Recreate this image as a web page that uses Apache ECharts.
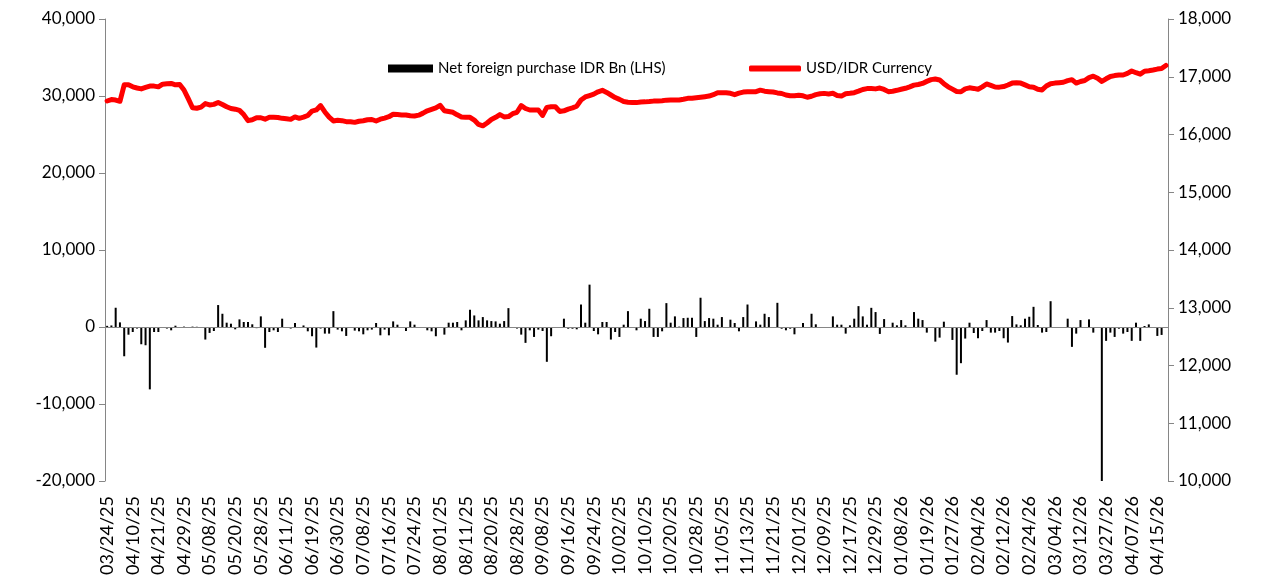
<!DOCTYPE html>
<html>
<head>
<meta charset="utf-8">
<script src="https://cdn.jsdelivr.net/npm/echarts@6/dist/echarts.min.js"></script>
<style>
  html, body { margin: 0; padding: 0; background: #fff; }
  #chart { width: 1275px; height: 585px; }
</style>
</head>
<body>
<div id="chart"></div>
<script>
// trading days shown on the category axis
var dates = [
  '03/24/25','03/25/25','03/26/25','03/27/25','04/08/25','04/09/25','04/10/25','04/11/25','04/14/25','04/15/25',
  '04/16/25','04/17/25','04/21/25','04/22/25','04/23/25','04/24/25','04/25/25','04/28/25','04/29/25','04/30/25',
  '05/02/25','05/05/25','05/06/25','05/07/25','05/08/25','05/09/25','05/14/25','05/15/25','05/16/25','05/19/25',
  '05/20/25','05/21/25','05/22/25','05/23/25','05/26/25','05/27/25','05/28/25','06/02/25','06/03/25','06/04/25',
  '06/05/25','06/10/25','06/11/25','06/12/25','06/13/25','06/16/25','06/17/25','06/18/25','06/19/25','06/20/25',
  '06/23/25','06/24/25','06/25/25','06/26/25','06/30/25','07/01/25','07/02/25','07/03/25','07/04/25','07/07/25',
  '07/08/25','07/09/25','07/10/25','07/11/25','07/14/25','07/15/25','07/16/25','07/17/25','07/18/25','07/21/25',
  '07/22/25','07/23/25','07/24/25','07/25/25','07/28/25','07/29/25','07/30/25','07/31/25','08/01/25','08/04/25',
  '08/05/25','08/06/25','08/07/25','08/08/25','08/11/25','08/12/25','08/13/25','08/14/25','08/15/25','08/19/25',
  '08/20/25','08/21/25','08/22/25','08/25/25','08/26/25','08/27/25','08/28/25','08/29/25','09/01/25','09/02/25',
  '09/03/25','09/04/25','09/08/25','09/09/25','09/10/25','09/11/25','09/12/25','09/15/25','09/16/25','09/17/25',
  '09/18/25','09/19/25','09/22/25','09/23/25','09/24/25','09/25/25','09/26/25','09/29/25','09/30/25','10/01/25',
  '10/02/25','10/03/25','10/06/25','10/07/25','10/08/25','10/09/25','10/10/25','10/13/25','10/14/25','10/15/25',
  '10/16/25','10/17/25','10/20/25','10/21/25','10/22/25','10/23/25','10/24/25','10/27/25','10/28/25','10/29/25',
  '10/30/25','10/31/25','11/03/25','11/04/25','11/05/25','11/06/25','11/07/25','11/10/25','11/11/25','11/12/25',
  '11/13/25','11/14/25','11/17/25','11/18/25','11/19/25','11/20/25','11/21/25','11/24/25','11/25/25','11/26/25',
  '11/27/25','11/28/25','12/01/25','12/02/25','12/03/25','12/04/25','12/05/25','12/08/25','12/09/25','12/10/25',
  '12/11/25','12/12/25','12/15/25','12/16/25','12/17/25','12/18/25','12/19/25','12/22/25','12/23/25','12/24/25',
  '12/29/25','12/30/25','01/02/26','01/05/26','01/06/26','01/07/26','01/08/26','01/09/26','01/12/26','01/13/26',
  '01/14/26','01/15/26','01/19/26','01/20/26','01/21/26','01/22/26','01/23/26','01/26/26','01/27/26','01/28/26',
  '01/29/26','01/30/26','02/02/26','02/03/26','02/04/26','02/05/26','02/06/26','02/09/26','02/10/26','02/11/26',
  '02/12/26','02/13/26','02/18/26','02/19/26','02/20/26','02/23/26','02/24/26','02/25/26','02/26/26','02/27/26',
  '03/02/26','03/03/26','03/04/26','03/05/26','03/06/26','03/09/26','03/10/26','03/11/26','03/12/26','03/13/26',
  '03/16/26','03/17/26','03/25/26','03/26/26','03/27/26','03/30/26','03/31/26','04/01/26','04/02/26','04/06/26',
  '04/07/26','04/08/26','04/09/26','04/10/26','04/13/26','04/14/26','04/15/26','04/16/26','04/17/26'
];

// net foreign purchase, IDR Bn (left axis)
var netForeign = [
  150, 200, 2500, 600, -3800, -1000, -650, -200, -2240, -2370,
  -8100, -650, -650, -100, -200, -430, 170, -100, 50, -50,
  50, 30, -100, -1630, -770, -520, 2850, 1720, 560, 430,
  -300, 990, 650, 650, 350, -150, 1380, -2700, -650, -430,
  -650, 1080, -50, -200, 520, -50, 200, -560, -1200, -2670,
  -200, -860, -860, 2060, -340, -560, -1160, -50, -470, -560,
  -950, -430, -340, 520, -1080, -340, -1080, 730, 300, -50,
  -520, 730, 300, -100, -50, -430, -560, -1200, -50, -990,
  560, 560, 650, -430, 860, 2240, 1500, 860, 1290, 860,
  770, 730, 430, 770, 2450, -130, -200, -990, -2060, -430,
  -1290, -340, -520, -4520, -1200, -130, -50, 1080, -220, -220,
  -300, 2920, 560, 5500, -520, -950, 650, 650, -1630, -650,
  -1290, 300, 2060, -30, -430, 1080, 770, 2370, -1290, -1290,
  -560, 3100, 560, 1380, 50, 1160, 1200, 1200, -1290, 3800,
  770, 1160, 1080, 300, 1290, 0, 950, 520, -560, 1290,
  2920, 0, 730, 300, 1720, 1290, 0, 3140, -220, -430,
  -220, -950, -50, 520, 0, 1720, 350, 0, -130, 0,
  1380, 300, 300, -860, 220, 1080, 2710, 1380, 300, 2490,
  1940, -900, 1030, 0, 560, 220, 900, 220, 0, 1940,
  1080, 900, -730, 0, -1900, -1380, 690, 0, -1680, -6200,
  -4700, -1500, 560, -780, -1460, -520, 900, -730, -730, -520,
  -1460, -2020, 1420, 340, 220, 1080, 1330, 2620, 260, -730,
  -650, 3350, -50, -50, -50, 1080, -2580, -860, 900, 0,
  990, -730, 0, -20000, -1800, -730, -1290, -220, -860, -650,
  -1800, 560, -1800, 130, 340, 0, -1160, -1030, 0
];

// USD/IDR (right axis)
var usdIdr = [
  16580, 16605, 16597, 16575, 16860, 16860, 16825, 16805, 16790, 16815,
  16838, 16838, 16825, 16872, 16880, 16885, 16860, 16866, 16771, 16620,
  16464, 16455, 16475, 16535, 16512, 16522, 16555, 16520, 16480, 16450,
  16438, 16418, 16345, 16240, 16255, 16290, 16290, 16265, 16298, 16298,
  16295, 16280, 16272, 16262, 16305, 16280, 16300, 16330, 16405, 16425,
  16500, 16390, 16300, 16235, 16245, 16240, 16222, 16222, 16210, 16230,
  16238, 16255, 16260, 16234, 16265, 16285, 16308, 16350, 16345, 16338,
  16338, 16325, 16320, 16335, 16370, 16410, 16435, 16460, 16505, 16412,
  16398, 16385, 16340, 16305, 16298, 16298, 16250, 16175, 16150, 16200,
  16260, 16298, 16345, 16305, 16310, 16360, 16385, 16500, 16450, 16424,
  16424, 16424, 16330, 16470, 16482, 16480, 16400, 16410, 16440, 16460,
  16490, 16597, 16650, 16675, 16700, 16740, 16765, 16728, 16684, 16640,
  16608, 16570, 16557, 16555, 16552, 16563, 16565, 16570, 16578, 16582,
  16586, 16595, 16597, 16597, 16597, 16610, 16626, 16626, 16635, 16645,
  16655, 16665, 16690, 16724, 16724, 16722, 16713, 16690, 16715, 16735,
  16742, 16742, 16742, 16768, 16750, 16742, 16735, 16720, 16710, 16684,
  16670, 16670, 16680, 16670, 16645, 16662, 16690, 16705, 16712, 16703,
  16713, 16675, 16665, 16705, 16713, 16724, 16750, 16780, 16795, 16795,
  16790, 16805, 16780, 16742, 16750, 16765, 16783, 16800, 16825, 16855,
  16866, 16885, 16920, 16950, 16960, 16944, 16880, 16825, 16785, 16745,
  16740, 16790, 16808, 16798, 16783, 16825, 16875, 16850, 16822, 16820,
  16830, 16857, 16890, 16897, 16890, 16860, 16828, 16820, 16783, 16772,
  16840, 16880, 16890, 16897, 16905, 16932, 16950, 16890, 16918, 16935,
  16985, 17010, 16975, 16920, 16965, 17005, 17020, 17030, 17030, 17058,
  17100, 17070, 17045, 17095, 17105, 17117, 17133, 17143, 17195
];

var leftTicks = { min: -20000, max: 40000, interval: 10000 };
var rightTicks = { min: 10000, max: 18000, interval: 1000 };

var FONT = 'Lato, "Open Sans", sans-serif';
var axisGrey = '#868686';

function fmt(v) {
  return Number(v).toLocaleString('en-US');
}

var chart = echarts.init(document.getElementById('chart'), null, { renderer: 'canvas' });

var option = {
  animation: false,
  backgroundColor: '#ffffff',
  textStyle: { fontFamily: FONT, color: '#000' },
  grid: { left: 105, right: 107, top: 19, bottom: 104, containLabel: false },
  legend: [
    {
      left: 388, top: 61, padding: 0,
      itemWidth: 45, itemHeight: 8, itemGap: 6,
      icon: 'rect',
      data: [{ name: 'Net foreign purchase IDR Bn (LHS)', itemStyle: { color: '#000000' } }],
      textStyle: { fontFamily: FONT, fontSize: 15, color: '#000' }
    },
    {
      left: 749, top: 61, padding: 0,
      itemWidth: 52, itemHeight: 6,
      icon: 'roundRect',
      data: [{ name: 'USD/IDR Currency', itemStyle: { color: '#ff0000' } }],
      textStyle: { fontFamily: FONT, fontSize: 15, color: '#000' }
    }
  ],
  xAxis: {
    type: 'category',
    data: dates,
    boundaryGap: true,
    axisLine: { show: false, onZero: false },
    axisTick: { show: false },
    axisLabel: {
      interval: 5,
      rotate: 90,
      margin: 15,
      fontFamily: FONT,
      fontSize: 18,
      color: '#000'
    },
    splitLine: { show: false }
  },
  yAxis: [
    {
      type: 'value',
      min: leftTicks.min, max: leftTicks.max, interval: leftTicks.interval,
      axisLine: { show: true, lineStyle: { color: axisGrey, width: 1 } },
      axisTick: { show: true, length: 6, lineStyle: { color: axisGrey } },
      splitLine: { show: false },
      axisLabel: { formatter: fmt, margin: 10, fontFamily: FONT, fontSize: 17, color: '#000' }
    },
    {
      type: 'value',
      position: 'right',
      min: rightTicks.min, max: rightTicks.max, interval: rightTicks.interval,
      axisLine: { show: true, lineStyle: { color: axisGrey, width: 1 } },
      axisTick: { show: true, length: 6, lineStyle: { color: axisGrey } },
      splitLine: { show: false },
      axisLabel: { formatter: fmt, margin: 10, fontFamily: FONT, fontSize: 17, color: '#000' }
    }
  ],
  series: [
    {
      name: 'Net foreign purchase IDR Bn (LHS)',
      type: 'bar',
      yAxisIndex: 0,
      data: netForeign,
      barWidth: 2,
      itemStyle: { color: '#000000' },
      markLine: {
        silent: true,
        symbol: 'none',
        label: { show: false },
        lineStyle: { color: axisGrey, type: 'solid', width: 1 },
        data: [{ yAxis: 0 }]
      }
    },
    {
      name: 'USD/IDR Currency',
      type: 'line',
      yAxisIndex: 1,
      data: usdIdr,
      showSymbol: false,
      symbol: 'none',
      lineStyle: { color: '#ff0000', width: 5, cap: 'round', join: 'round' },
      itemStyle: { color: '#ff0000' },
      z: 5
    }
  ]
};

chart.setOption(option);
</script>
</body>
</html>
